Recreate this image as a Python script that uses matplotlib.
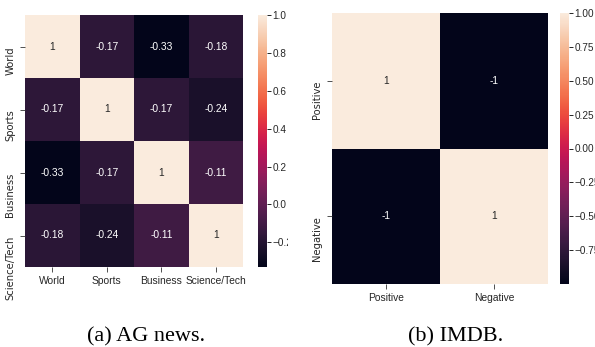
import numpy as np
import matplotlib
matplotlib.use("Agg")
import matplotlib.pyplot as plt
import seaborn as sns
from matplotlib.patches import Rectangle

ag_labels = ["World", "Sports", "Business", "Science/Tech"]
ag_corr = [
    [1.00, -0.17, -0.33, -0.18],
    [-0.17, 1.00, -0.17, -0.24],
    [-0.33, -0.17, 1.00, -0.11],
    [-0.18, -0.24, -0.11, 1.00],
]
imdb_labels = ["Positive", "Negative"]
imdb_corr = [
    [1, -1],
    [-1, 1],
]
ag_cbar_ticks = [1.0, 0.8, 0.6, 0.4, 0.2, 0.0, -0.2]
imdb_cbar_ticks = [1.0, 0.75, 0.5, 0.25, 0.0, -0.25, -0.5, -0.75]

W, H = 595, 347
fig = plt.figure(figsize=(W / 100, H / 100), dpi=100)

def px(x0, y0, x1, y1):
    return [x0 / W, 1 - y1 / H, (x1 - x0) / W, (y1 - y0) / H]

HOR = ["Liberation Sans", "DejaVu Sans"]
VER = ["DejaVu Sans"]
TXT = "#262626"

def draw(ax, cax, data, labels, ticks, fmt_ticks):
    sns.heatmap(np.array(data), ax=ax, cbar_ax=cax, cmap="rocket", annot=True,
                annot_kws={"fontsize": 7.4, "family": HOR})
    ax.set_xticks(np.arange(len(labels)) + 0.5)
    ax.set_yticks(np.arange(len(labels)) + 0.5)
    ax.set_xticklabels(labels, rotation=0, family=HOR, fontsize=7.4, color=TXT)
    ax.set_yticklabels(labels, rotation=90, rotation_mode="anchor", ha="right",
                       va="baseline", family=VER, fontsize=7.2, color=TXT)
    ax.tick_params(axis="x", length=3.5, width=0.6, color="#333333", pad=3)
    ax.tick_params(axis="y", length=3.5, width=0.6, color="#333333", pad=5)
    cax.set_yticks(ticks)
    cax.set_yticklabels([fmt_ticks(v) for v in ticks], family=HOR, fontsize=7.2,
                        color=TXT)
    cax.tick_params(length=3, width=0.6, pad=1)
    for s in cax.spines.values():
        s.set_visible(False)

ax1 = fig.add_axes(px(25, 15, 243, 267))
cax1 = fig.add_axes(px(258, 15, 267, 267))
draw(ax1, cax1, ag_corr, ag_labels, ag_cbar_ticks,
     lambda v: f"{v:.1f}".replace("-", "\u2212"))

ax2 = fig.add_axes(px(332, 13, 548, 284))
cax2 = fig.add_axes(px(560, 13, 569, 284))
draw(ax2, cax2, imdb_corr, imdb_labels, imdb_cbar_ticks,
     lambda v: f"{v:.2f}".replace("-", "\u2212"))

# crop effect between panels (as in the reference image)
fig.patches.append(Rectangle((288 / W, 0), 12 / W, 1, transform=fig.transFigure,
                             facecolor="white", edgecolor="none", zorder=10))

fig.text(146 / W, 1 - 337 / H, "(a) AG news.", family="Liberation Serif",
         fontsize=16, ha="center", va="center")
fig.text(456 / W, 1 - 337 / H, "(b) IMDB.", family="Liberation Serif",
         fontsize=16, ha="center", va="center")

fig.savefig("out.png", dpi=100)
